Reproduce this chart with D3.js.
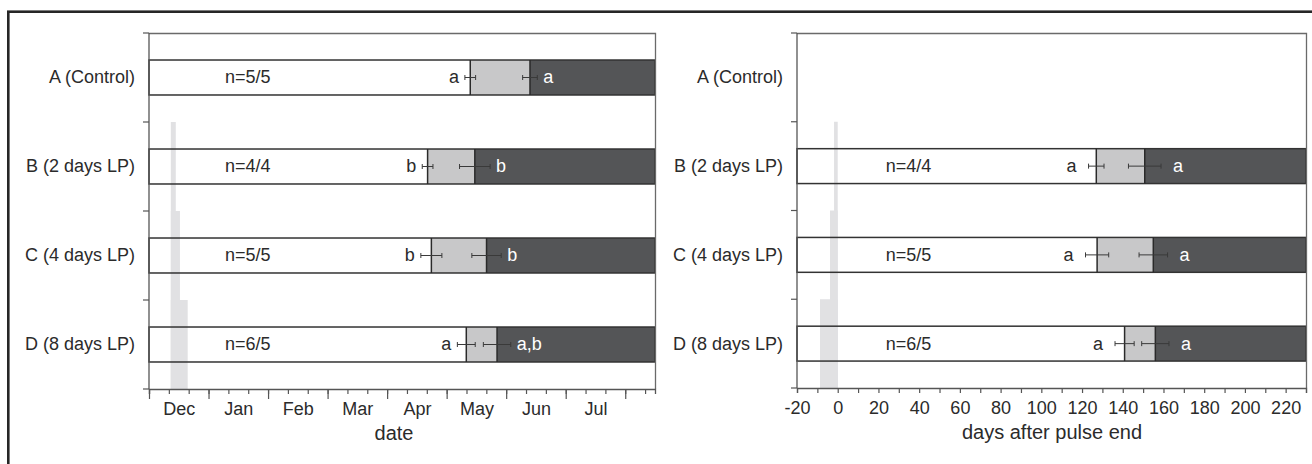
<!DOCTYPE html>
<html>
<head>
<meta charset="utf-8">
<script src="https://cdn.jsdelivr.net/npm/d3@7"></script>
<style>
  body { margin: 0; background: #fff; }
  svg text { font-family: "Liberation Sans", Arial, sans-serif; fill: #2b2b2b; }
</style>
</head>
<body>
<div id="chart"></div>
<script>
// groups and labels
var groups = ["A (Control)", "B (2 days LP)", "C (4 days LP)", "D (8 days LP)"];
var nLabels = ["n=5/5", "n=4/4", "n=5/5", "n=6/5"];
var months = ["Dec", "Jan", "Feb", "Mar", "Apr", "May", "Jun", "Jul"];

// left panel: days since 1 Dec
var dateOnset1 = [161.9, 140.4, 142.3, 159.9];
var dateErr1 = [2.7, 2.7, 5.3, 4.5];
var dateOnset2 = [192.0, 164.2, 170.1, 175.4];
var dateErr2 = [3.7, 7.7, 7.4, 6.9];
var dateLetters1 = ["a", "b", "b", "a"];
var dateLetters2 = ["a", "b", "b", "a,b"];
var pulseStart = [null, 11, 11, 11];
var pulseEnd = [null, 13.5, 15.6, 19.5];

// right panel: days after pulse end (no control)
var relOnset1 = [null, 127.0, 127.4, 140.9];
var relErr1 = [null, 3.8, 5.7, 4.7];
var relOnset2 = [null, 150.8, 155.0, 156.0];
var relErr2 = [null, 8.0, 7.0, 6.7];
var relLetters1 = [null, "a", "a", "a"];
var relLetters2 = [null, "a", "a", "a"];
var relPulseStart = [null, -1.8, -3.8, -8.7];
var relPulseEnd = [null, 0, 0, 0];

var relTicks = d3.range(-20, 221, 20);

var W = 1312, H = 464;
var svg = d3.select("#chart").append("svg")
  .attr("width", W).attr("height", H);

// outer frame
svg.append("rect")
  .attr("x", 8.3).attr("y", 11.7)
  .attr("width", 1400).attr("height", 500)
  .attr("fill", "none")
  .attr("stroke", "#262626")
  .attr("stroke-width", 2.6);

function drawPanel(p) {
  var x = d3.scaleLinear().domain(p.domain).range([p.left, p.right]);
  var y = d3.scaleBand().domain(groups).range([p.top, p.bottom]);
  var barH = y.bandwidth() * 0.393;
  var g = svg.append("g");

  var rows = groups.map(function(name, i) {
    return {
      name: name, i: i,
      on1: p.on1[i], e1: p.e1[i], on2: p.on2[i], e2: p.e2[i],
      l1: p.l1[i], l2: p.l2[i], ps: p.ps[i], pe: p.pe[i],
      yc: y(name) + y.bandwidth() / 2
    };
  });
  var bars = rows.filter(function(d) { return d.on1 != null; });

  // white part
  g.selectAll("rect.white").data(bars).enter().append("rect")
    .attr("x", x(p.domain[0]))
    .attr("y", function(d) { return d.yc - barH / 2; })
    .attr("width", function(d) { return x(d.on1) - x(p.domain[0]); })
    .attr("height", barH)
    .attr("fill", "#fff");

  // light pulses
  g.selectAll("rect.pulse").data(rows.filter(function(d) { return d.ps != null; }))
    .enter().append("rect")
    .attr("x", function(d) { return x(d.ps); })
    .attr("y", function(d) { return y(d.name); })
    .attr("width", function(d) { return x(d.pe) - x(d.ps); })
    .attr("height", function(d) { return p.bottom - y(d.name); })
    .attr("fill", "#e1e1e3");

  // light grey and dark parts
  g.selectAll("rect.mid").data(bars).enter().append("rect")
    .attr("x", function(d) { return x(d.on1); })
    .attr("y", function(d) { return d.yc - barH / 2; })
    .attr("width", function(d) { return x(d.on2) - x(d.on1); })
    .attr("height", barH)
    .attr("fill", "#c8c8c9");
  g.selectAll("rect.dark").data(bars).enter().append("rect")
    .attr("x", function(d) { return x(d.on2); })
    .attr("y", function(d) { return d.yc - barH / 2; })
    .attr("width", function(d) { return x(p.domain[1]) - x(d.on2); })
    .attr("height", barH)
    .attr("fill", "#545557");

  // outlines
  g.selectAll("rect.outline").data(bars).enter().append("rect")
    .attr("x", x(p.domain[0]))
    .attr("y", function(d) { return d.yc - barH / 2; })
    .attr("width", x(p.domain[1]) - x(p.domain[0]))
    .attr("height", barH)
    .attr("fill", "none")
    .attr("stroke", "#333")
    .attr("stroke-width", 1.5);
  ["on1", "on2"].forEach(function(k) {
    g.selectAll(null).data(bars).enter().append("line")
      .attr("x1", function(d) { return x(d[k]); })
      .attr("x2", function(d) { return x(d[k]); })
      .attr("y1", function(d) { return d.yc - barH / 2; })
      .attr("y2", function(d) { return d.yc + barH / 2; })
      .attr("stroke", "#2a2a2a")
      .attr("stroke-width", 1.5);
  });

  // error bars
  [["on1", "e1"], ["on2", "e2"]].forEach(function(k) {
    var eb = g.selectAll(null).data(bars).enter().append("g")
      .attr("stroke", "#3a3a3a").attr("stroke-width", 1);
    eb.append("line")
      .attr("x1", function(d) { return x(d[k[0]] - d[k[1]]); })
      .attr("x2", function(d) { return x(d[k[0]] + d[k[1]]); })
      .attr("y1", function(d) { return d.yc; })
      .attr("y2", function(d) { return d.yc; });
    [-1, 1].forEach(function(s) {
      eb.append("line")
        .attr("x1", function(d) { return x(d[k[0]] + s * d[k[1]]); })
        .attr("x2", function(d) { return x(d[k[0]] + s * d[k[1]]); })
        .attr("y1", function(d) { return d.yc - 2.5; })
        .attr("y2", function(d) { return d.yc + 2.5; });
    });
  });

  // letters
  g.selectAll(null).data(bars).enter().append("text")
    .attr("x", function(d) { return x(d.on1 - d.e1) - p.gap; })
    .attr("y", function(d) { return d.yc; })
    .attr("dy", "0.33em")
    .attr("text-anchor", "end")
    .style("font-size", "18px")
    .text(function(d) { return d.l1; });
  g.selectAll(null).data(bars).enter().append("text")
    .attr("x", function(d) { return x(d.on2 + d.e2) + p.gap; })
    .attr("y", function(d) { return d.yc; })
    .attr("dy", "0.33em")
    .style("font-size", "18px")
    .style("fill", "#fff")
    .text(function(d) { return d.l2; });

  // n labels
  g.selectAll(null).data(bars).enter().append("text")
    .attr("x", x(p.nAt))
    .attr("y", function(d) { return d.yc; })
    .attr("dy", "0.33em")
    .style("font-size", "18px")
    .text(function(d) { return nLabels[d.i]; });

  // plot border (top and right)
  g.append("path")
    .attr("d", "M" + p.left + "," + (p.top + 0.5) + "H" + (p.right + 0.5) + "V" + p.bottom)
    .attr("fill", "none").attr("stroke", "#6a6a6a").attr("stroke-width", 1.3);

  // y axis
  var yAxis = g.append("g").attr("transform", "translate(" + p.left + ",0)");
  yAxis.append("line")
    .attr("x1", 0).attr("x2", 0).attr("y1", p.top).attr("y2", p.bottom)
    .attr("stroke", "#555").attr("stroke-width", 1.3);
  yAxis.selectAll("line.tk").data(groups.concat(["end"])).enter().append("line")
    .attr("x1", -6).attr("x2", 0)
    .attr("y1", function(d) { return d === "end" ? p.bottom : y(d); })
    .attr("y2", function(d) { return d === "end" ? p.bottom : y(d); })
    .attr("stroke", "#555").attr("stroke-width", 1.2);
  yAxis.selectAll("text").data(groups).enter().append("text")
    .attr("x", -14)
    .attr("y", function(d) { return y(d) + y.bandwidth() / 2; })
    .attr("dy", "0.33em")
    .attr("text-anchor", "end")
    .style("font-size", "18px")
    .text(function(d) { return d; });

  // x axis
  var xg = g.append("g").attr("transform", "translate(0," + p.bottom + ")");
  xg.call(d3.axisBottom(x).tickValues(p.minorTicks).tickSize(5).tickFormat(""));
  if (p.majorTicks) {
    var mj = g.append("g").attr("transform", "translate(0," + p.bottom + ")")
      .call(d3.axisBottom(x).tickValues(p.majorTicks).tickSize(10).tickFormat(""));
    mj.select(".domain").remove();
    mj.selectAll("line").attr("stroke", "#555").attr("stroke-width", 1.2);
  }
  xg.select(".domain").attr("stroke", "#555").attr("stroke-width", 1.3);
  xg.selectAll("line").attr("stroke", "#555").attr("stroke-width", 1.2);

  var lab = g.append("g").attr("transform", "translate(0," + p.bottom + ")")
    .call(d3.axisBottom(x).tickValues(p.labelValues).tickSize(0).tickPadding(13)
      .tickFormat(function(d, i) { return p.labelText(d, i); }));
  lab.select(".domain").remove();
  lab.selectAll("text")
    .style("font-size", "18px")
    .style("font-family", "'Liberation Sans', Arial, sans-serif")
    .attr("fill", "#2b2b2b");

  g.append("text")
    .attr("x", p.titleX)
    .attr("y", p.bottom + 51)
    .attr("text-anchor", "middle")
    .style("font-size", "20px")
    .text(p.title);
}

drawPanel({
  left: 149, right: 655, top: 33, bottom: 389,
  domain: [0, 255],
  on1: dateOnset1, e1: dateErr1, on2: dateOnset2, e2: dateErr2,
  l1: dateLetters1, l2: dateLetters2, ps: pulseStart, pe: pulseEnd,
  gap: 6, nAt: 38.3,
  minorTicks: d3.range(0, 255, 10),
  majorTicks: d3.range(0, 255, 30),
  labelValues: months.map(function(m, i) { return 15 + i * 30; }),
  labelText: function(d, i) { return months[i]; },
  title: "date", titleX: 394
});

drawPanel({
  left: 797, right: 1306, top: 33, bottom: 388,
  domain: [-20, 230],
  on1: relOnset1, e1: relErr1, on2: relOnset2, e2: relErr2,
  l1: relLetters1, l2: relLetters2, ps: relPulseStart, pe: relPulseEnd,
  gap: 12, nAt: 23.6,
  minorTicks: d3.range(-20, 231, 10),
  majorTicks: null,
  labelValues: relTicks,
  labelText: function(d) { return d; },
  title: "days after pulse end", titleX: 1052
});
</script>
</body>
</html>
